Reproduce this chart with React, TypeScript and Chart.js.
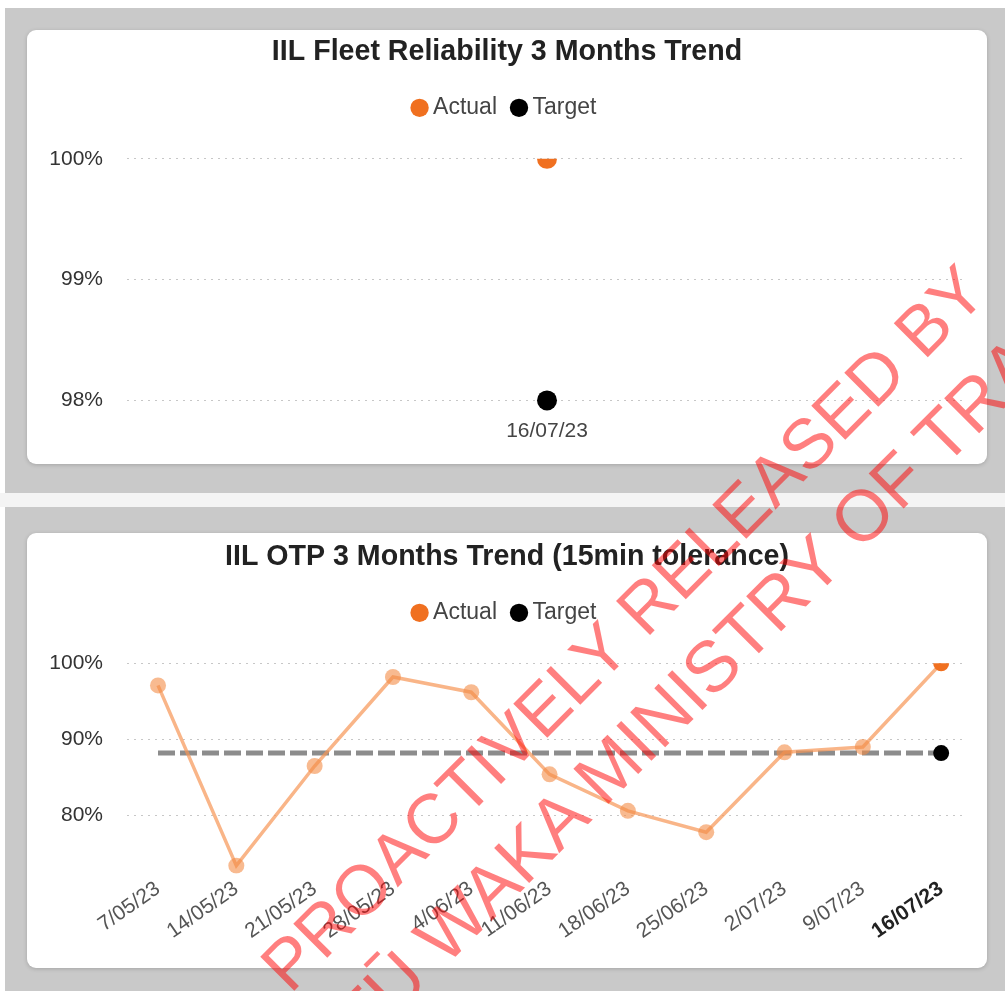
import React, { useEffect, useRef } from "react";
import { Chart, registerables } from "chart.js";

Chart.register(...registerables);

// ---- Data ----
const reliabilityLabels = ["16/07/23"];
const reliabilityActual = [100];
const reliabilityTarget = [98];
const reliabilityTicks = [98, 99, 100];

const otpLabels = [
  "7/05/23", "14/05/23", "21/05/23", "28/05/23", "4/06/23", "11/06/23",
  "18/06/23", "25/06/23", "2/07/23", "9/07/23", "16/07/23",
];
const otpActual = [97.1, 73.4, 86.5, 98.2, 96.2, 85.4, 80.6, 77.8, 88.3, 89.0, 100];
const otpTarget = [88.2, 88.2, 88.2, 88.2, 88.2, 88.2, 88.2, 88.2, 88.2, 88.2, 88.2];
const otpTicks = [80, 90, 100];

const FONT = "'Liberation Sans', Arial, sans-serif";
const ORANGE = "#f07020";
const ORANGE_SOFT = "rgba(244,140,70,0.6)";
const LINE_SOFT = "rgba(246,150,85,0.7)";

const legendExtra = (extra: number) => ({
  id: "legendExtra",
  beforeInit(chart: any) {
    const orig = chart.legend.fit;
    chart.legend.fit = function () {
      orig.call(this);
      this.height += extra;
    };
  },
});

const legendLabels = () => [
  { text: "Actual", fillStyle: ORANGE, strokeStyle: ORANGE, lineWidth: 0, pointStyle: "circle", datasetIndex: 0, fontColor: "#444" },
  { text: "Target", fillStyle: "#000", strokeStyle: "#000", lineWidth: 0, pointStyle: "circle", datasetIndex: 1, fontColor: "#444" },
];

function commonPlugins(title: string, padTop: number) {
  return {
    title: {
      display: true,
      text: title,
      color: "#222",
      font: { family: FONT, size: 28.6, weight: "bold" as const },
      padding: { top: padTop, bottom: 7 },
    },
    legend: {
      display: true,
      labels: {
        usePointStyle: true,
        boxWidth: 4,
        boxHeight: 13,
        padding: 20,
        color: "#444",
        font: { family: FONT, size: 23 },
        generateLabels: legendLabels,
      },
    },
    tooltip: { enabled: false },
  };
}

const yGrid = {
  display: true,
  color: "rgba(0,0,0,0.22)",
  lineWidth: 1,
  drawTicks: false,
};

const yAxisWidth = (s: any) => {
  s.width = 80;
};

function ReliabilityChart() {
  const ref = useRef<HTMLCanvasElement>(null);
  useEffect(() => {
    const chart = new Chart(ref.current!, {
      type: "line",
      data: {
        labels: reliabilityLabels,
        datasets: [
          {
            label: "Actual",
            data: reliabilityActual,
            borderColor: ORANGE,
            backgroundColor: ORANGE,
            pointBackgroundColor: ORANGE,
            pointBorderWidth: 0,
            pointRadius: 10,
            borderWidth: 3,
          },
          {
            label: "Target",
            data: reliabilityTarget,
            borderColor: "#000",
            backgroundColor: "#000",
            pointBackgroundColor: "#000",
            pointBorderWidth: 0,
            pointRadius: 10,
            borderWidth: 3,
          },
        ],
      },
      options: {
        responsive: false,
        animation: false,
        events: [],
        layout: { padding: { left: 20, right: 20, top: 0, bottom: 18.3 } },
        plugins: commonPlugins("IIL Fleet Reliability 3 Months Trend", 5),
        scales: {
          x: {
            type: "category",
            offset: true,
            grid: { display: false, drawTicks: false },
            border: { display: false },
            ticks: { color: "#444", padding: 2, font: { family: FONT, size: 21 } },
          },
          y: {
            min: 97.867,
            max: 100,
            grid: { ...yGrid },
            border: { display: false, dash: [2, 5] },
            afterFit: yAxisWidth,
            afterBuildTicks: (s: any) => {
              s.ticks = reliabilityTicks.map((v) => ({ value: v }));
            },
            ticks: {
              color: "#333",
              padding: 24,
              font: { family: FONT, size: 21 },
              callback: (v: any) => v + "%",
            },
          },
        },
      } as any,
      plugins: [legendExtra(29.5)],
    });
    return () => chart.destroy();
  }, []);
  return <canvas ref={ref} width={960} height={434} style={{ display: "block" }} />;
}

function OtpChart() {
  const ref = useRef<HTMLCanvasElement>(null);
  useEffect(() => {
    const last = otpLabels.length - 1;
    const chart = new Chart(ref.current!, {
      type: "line",
      data: {
        datasets: [
          {
            label: "Actual",
            data: otpActual.map((v, i) => ({ x: i, y: v })),
            borderColor: LINE_SOFT,
            backgroundColor: ORANGE,
            pointBackgroundColor: (c: any) => (c.dataIndex === last ? ORANGE : ORANGE_SOFT),
            pointBorderWidth: 0,
            pointRadius: 8,
            borderWidth: 3.5,
            order: 1,
          },
          {
            label: "Target",
            data: otpTarget.map((v, i) => ({ x: i, y: v })),
            borderColor: "#8c8c8c",
            backgroundColor: "#000",
            borderDash: [17, 5],
            borderWidth: 5,
            pointBackgroundColor: "#000",
            pointBorderWidth: 0,
            pointRadius: (c: any) => (c.dataIndex === last ? 8 : 0),
            order: 2,
          },
        ],
      },
      options: {
        responsive: false,
        animation: false,
        events: [],
        layout: { padding: { left: 20, right: 20, top: 0, bottom: 21 } },
        plugins: commonPlugins("IIL OTP 3 Months Trend (15min tolerance)", 7),
        scales: {
          x: {
            type: "linear",
            min: -0.396,
            max: 10.33,
            grid: { display: false, drawTicks: false },
            border: { display: false },
            afterBuildTicks: (s: any) => {
              s.ticks = otpLabels.map((_, i) => ({ value: i }));
            },
            ticks: {
              autoSkip: false,
              minRotation: 35,
              maxRotation: 35,
              padding: 3,
              color: (c: any) => (c.index === last ? "#222" : "#555"),
              font: (c: any) => ({ family: FONT, size: 21, weight: c.index === last ? "bold" : "normal" }),
              callback: (v: any) => otpLabels[v] ?? "",
            },
          },
          y: {
            min: 72.37,
            max: 100,
            grid: { ...yGrid },
            border: { display: false, dash: [2, 5] },
            afterFit: yAxisWidth,
            afterBuildTicks: (s: any) => {
              s.ticks = otpTicks.map((v) => ({ value: v }));
            },
            ticks: {
              color: "#333",
              padding: 24,
              font: { family: FONT, size: 21 },
              callback: (v: any) => v + "%",
            },
          },
        },
      } as any,
      plugins: [legendExtra(29)],
    });
    return () => chart.destroy();
  }, []);
  return <canvas ref={ref} width={960} height={435} style={{ display: "block" }} />;
}

const card: React.CSSProperties = {
  position: "absolute",
  left: 27,
  width: 960,
  background: "#ffffff",
  borderRadius: 9,
  boxShadow: "0 1px 4px rgba(0,0,0,0.18)",
  overflow: "hidden",
};

const wm: React.CSSProperties = {
  position: "absolute",
  whiteSpace: "nowrap",
  fontFamily: FONT,
  fontSize: 70,
  lineHeight: "70px",
  color: "rgba(255,0,0,0.5)",
  transform: "translate(-50%, -50%) rotate(-45deg)",
  pointerEvents: "none",
};

export default function App() {
  return (
    <div
      style={{
        position: "absolute",
        left: 0,
        top: 0,
        width: 1005,
        height: 991,
        overflow: "hidden",
        background: "#ffffff",
      }}
    >
      <div style={{ position: "absolute", left: 5, top: 8, width: 1000, height: 485, background: "#c9c9c9" }} />
      <div style={{ position: "absolute", left: 0, top: 493, width: 1005, height: 14, background: "#f4f4f4" }} />
      <div style={{ position: "absolute", left: 5, top: 507, width: 1000, height: 484, background: "#c9c9c9" }} />
      <div style={{ ...card, top: 30, height: 434 }}>
        <ReliabilityChart />
      </div>
      <div style={{ ...card, top: 533, height: 435 }}>
        <OtpChart />
      </div>
      <div style={{ ...wm, left: 623, top: 628 }}>PROACTIVELY RELEASED BY</div>
      <div style={{ ...wm, fontSize: 72, lineHeight: "72px", left: 681, top: 696 }}>
        TE MANATŪ WAKA MINISTRY OF TRANSPORT
      </div>
    </div>
  );
}
